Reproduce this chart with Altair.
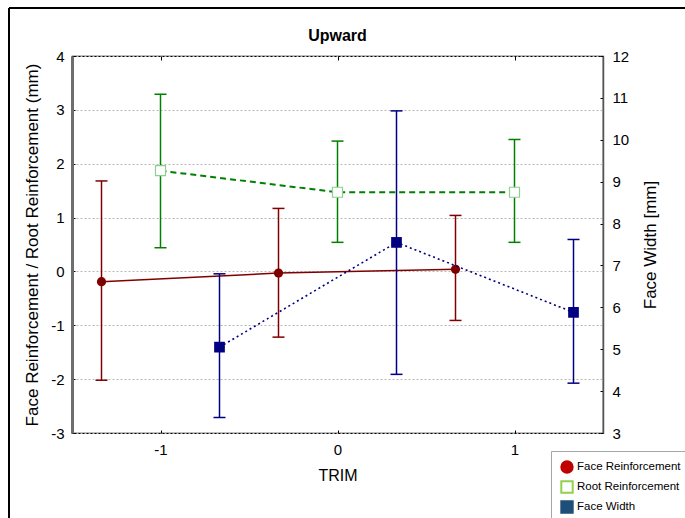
import altair as alt
import pandas as pd

# TRIM levels and per-series means with their interval limits
trim = [-1, 0, 1]
series_names = ["Face Reinforcement", "Root Reinforcement", "Face Width"]

fr_mean = [-0.19, -0.03, 0.04]
fr_low = [-2.02, -1.22, -0.91]
fr_high = [1.68, 1.17, 1.04]

rr_mean = [1.87, 1.47, 1.47]
rr_low = [0.44, 0.54, 0.54]
rr_high = [3.29, 2.42, 2.45]

fw_mean = [5.05, 7.55, 5.88]
fw_low = [3.37, 4.40, 4.19]
fw_high = [6.80, 10.69, 7.62]

x_ticks = [-1, 0, 1]
left_ticks = [-3, -2, -1, 0, 1, 2, 3, 4]
right_ticks = [3, 4, 5, 6, 7, 8, 9, 10, 11, 12]

FONT = "Liberation Sans"
RED = "#800000"
GREEN = "#008000"
NAVY = "#000080"


def series_frame(mean, low, high, shift):
    return pd.DataFrame({
        "pos": [t + shift for t in trim],
        "mean": mean,
        "low": low,
        "high": high,
    })


fr = series_frame(fr_mean, fr_low, fr_high, -1 / 3)
rr = series_frame(rr_mean, rr_low, rr_high, 0.0)
fw = series_frame(fw_mean, fw_low, fw_high, 1 / 3)

x_scale = alt.Scale(domain=[-1.5, 1.5], nice=False, zero=False)
yl_scale = alt.Scale(domain=[-3, 4], nice=False, zero=False)
yr_scale = alt.Scale(domain=[3, 12], nice=False, zero=False)

bottom_axis = alt.Axis(
    values=x_ticks, title="TRIM", labelExpr="'' + datum.value",
    grid=False, domain=False, tickSize={"expr": "-3"}, tickColor="black",
    labelPadding=12, labelFont=FONT, labelFontSize=15, labelColor="black",
    titleFont=FONT, titleFontSize=16, titleFontWeight="normal",
    titleColor="black", titlePadding=10,
)
top_axis = alt.Axis(
    orient="top", values=x_ticks, title="", labels=False, grid=False,
    domain=False, tickSize={"expr": "-4"}, tickColor="black",
)
left_axis = alt.Axis(
    values=left_ticks, title="Face Reinforcement / Root Reinforcement (mm)",
    labelExpr="'' + datum.value",
    grid=True, gridColor="#b8b8b8", gridDash=[2, 2], gridWidth=1,
    domain=True, domainColor="#6e6e6e", domainWidth=3,
    tickSize={"expr": "-3"}, tickColor="black",
    labelPadding=11, labelFont=FONT, labelFontSize=15, labelColor="black",
    titleFont=FONT, titleFontSize=17, titleFontWeight="normal",
    titleColor="black", titlePadding=9,
)
right_axis = alt.Axis(
    orient="right", values=right_ticks, title="Face Width [mm]",
    grid=False, domain=True, domainColor="#555555", domainWidth=1.5,
    tickSize={"expr": "-3"}, tickColor="black",
    labelPadding=12, labelFont=FONT, labelFontSize=15, labelColor="black",
    titleFont=FONT, titleFontSize=17, titleFontWeight="normal",
    titleColor="black", titlePadding=14, titleAngle=270,
    titleBaseline="top",
)


def error_layers(df, color, y_axis, y_scale, x_axis):
    base = alt.Chart(df)
    xenc = alt.X("pos:Q", scale=x_scale, axis=x_axis)
    bar = base.mark_rule(color=color, strokeWidth=1.5).encode(
        x=xenc,
        y=alt.Y("low:Q", scale=y_scale, axis=y_axis),
        y2="high:Q",
    )
    cap_lo = base.mark_tick(orient="horizontal", size=12, thickness=1.5,
                            color=color, opacity=1).encode(
        x=xenc, y=alt.Y("low:Q", scale=y_scale, axis=y_axis))
    cap_hi = base.mark_tick(orient="horizontal", size=12, thickness=1.5,
                            color=color, opacity=1).encode(
        x=xenc, y=alt.Y("high:Q", scale=y_scale, axis=y_axis))
    return [bar, cap_lo, cap_hi]


def mean_line(df, color, dash, width, y_axis, y_scale, x_axis):
    kw = {"color": color, "strokeWidth": width}
    if dash:
        kw["strokeDash"] = dash
    return alt.Chart(df).mark_line(**kw).encode(
        x=alt.X("pos:Q", scale=x_scale, axis=x_axis),
        y=alt.Y("mean:Q", scale=y_scale, axis=y_axis),
    )


# Face Reinforcement: solid line, filled circles
fr_layers = error_layers(fr, RED, left_axis, yl_scale, bottom_axis)
fr_line = mean_line(fr, RED, None, 1.5, left_axis, yl_scale, bottom_axis)
fr_pts = alt.Chart(fr).mark_point(
    shape="circle", filled=True, size=85, color=RED, opacity=1
).encode(
    x=alt.X("pos:Q", scale=x_scale, axis=bottom_axis),
    y=alt.Y("mean:Q", scale=yl_scale, axis=left_axis),
)

# Root Reinforcement: dashed line, open squares
rr_layers = error_layers(rr, GREEN, left_axis, yl_scale, bottom_axis)
rr_line = mean_line(rr, GREEN, [6, 4], 2, left_axis, yl_scale, bottom_axis)
rr_pts = alt.Chart(rr).mark_point(
    shape="square", filled=False, size=100, fill="white", fillOpacity=1,
    stroke="#8fd08f", strokeWidth=1.2, opacity=1
).encode(
    x=alt.X("pos:Q", scale=x_scale, axis=bottom_axis),
    y=alt.Y("mean:Q", scale=yl_scale, axis=left_axis),
)

# Legend entries (symbols only; the marks themselves stay hidden)
legend_df = pd.DataFrame({"series": series_names})
legend = alt.Legend(
    title=None, orient="none", legendX=479, legendY=395,
    strokeColor="#a6a6a6", fillColor="white", padding=9,
    labelFont=FONT, labelFontSize=11.5, labelColor="black", labelLimit=300,
    symbolSize=130, symbolStrokeWidth=2, symbolOpacity=1,
    rowPadding=0, labelOffset=3,
)
legend_layer = alt.Chart(legend_df).mark_point(opacity=0).encode(
    x=alt.value(0),
    y=alt.value(0),
    shape=alt.Shape("series:N", legend=legend, scale=alt.Scale(
        domain=series_names, range=["circle", "square", "square"])),
    fill=alt.Fill("series:N", legend=legend, scale=alt.Scale(
        domain=series_names, range=["#c00000", "#ffffff", "#1f4e79"])),
    stroke=alt.Stroke("series:N", legend=legend, scale=alt.Scale(
        domain=series_names, range=["#c00000", "#92d050", "#1f4e79"])),
)

left_group = alt.layer(
    *fr_layers, fr_line, *rr_layers, rr_line, rr_pts, fr_pts, legend_layer
)

# Face Width on the right-hand axis: dotted line, filled squares
fw_layers = error_layers(fw, NAVY, right_axis, yr_scale, top_axis)
fw_line = mean_line(fw, NAVY, [2, 3], 1.6, right_axis, yr_scale, top_axis)
fw_pts = alt.Chart(fw).mark_point(
    shape="square", filled=True, size=115, color=NAVY, opacity=1
).encode(
    x=alt.X("pos:Q", scale=x_scale, axis=top_axis),
    y=alt.Y("mean:Q", scale=yr_scale, axis=right_axis),
)
right_group = alt.layer(*fw_layers, fw_line, fw_pts)

# outer figure frame
frame_df = pd.DataFrame({"k": [0]})
frame_top = alt.Chart(frame_df).mark_rule(color="black", strokeWidth=2).encode(
    x=alt.value(-63), x2=alt.value(700), y=alt.value(-48))
frame_left = alt.Chart(frame_df).mark_rule(color="black", strokeWidth=2).encode(
    x=alt.value(-63), y=alt.value(-48), y2=alt.value(500))

chart = alt.layer(
    left_group, right_group, frame_top, frame_left
).resolve_scale(
    y="independent"
).resolve_axis(
    x="independent"
).properties(
    width=531,
    height=377,
    autosize=alt.AutoSizeParams(type="none"),
    padding={"left": 72, "top": 56, "right": 82, "bottom": 85},
    background="white",
    title=alt.Title(
        "Upward", font=FONT, fontSize=16,
        fontWeight="bold", color="black", offset=-37, anchor="middle",
    ),
).configure_view(
    stroke="black", strokeWidth=1.2
)

chart.save("out.html", embed_options={"renderer": "svg", "actions": False})
